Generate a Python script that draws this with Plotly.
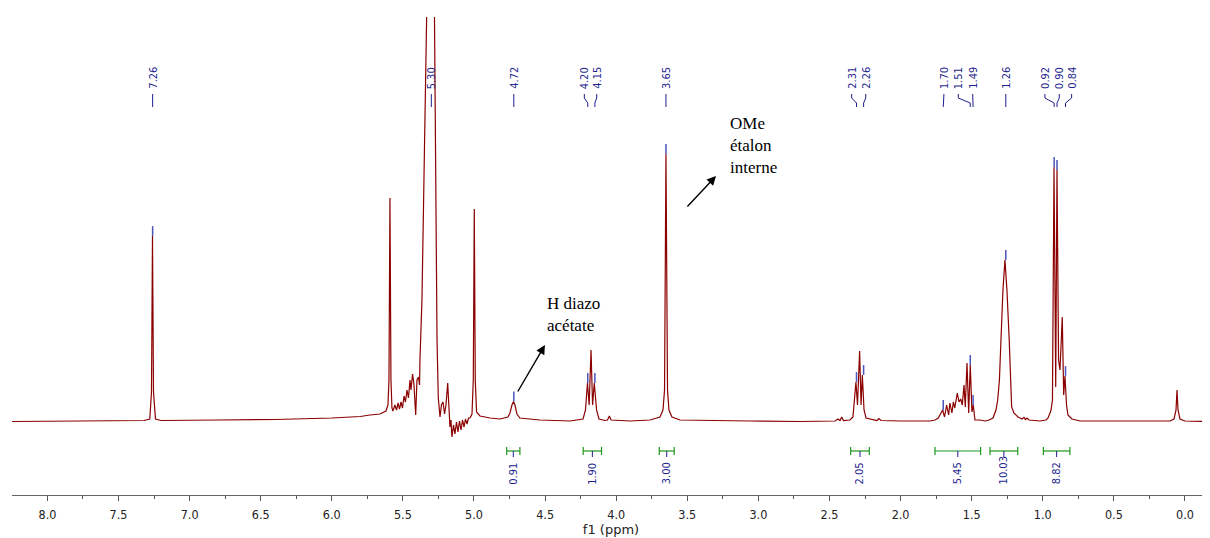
import plotly.graph_objects as go

# ---- spectrum trace (ppm, intensity) ----
spectrum_ppm = [
    8.249, 7.8, 7.5, 7.32, 7.28, 7.268, 7.261, 7.254, 7.24, 7.2, 6.8, 6.4, 6.0, 5.8,
    5.731, 5.661, 5.619, 5.605, 5.598, 5.591, 5.584, 5.577, 5.570, 5.556, 5.545, 5.534,
    5.524, 5.513, 5.503, 5.492, 5.482, 5.471, 5.461, 5.450, 5.443, 5.432, 5.422, 5.410,
    5.401, 5.390, 5.383, 5.380, 5.366, 5.355, 5.345, 5.331, 5.305, 5.279, 5.274, 5.267,
    5.260, 5.251, 5.239, 5.229, 5.218, 5.207, 5.197, 5.185, 5.176, 5.169, 5.162, 5.155,
    5.144, 5.134, 5.123, 5.113, 5.102, 5.091, 5.081, 5.070, 5.060, 5.049, 5.039, 5.028,
    5.014, 5.005, 4.998, 4.991, 4.982, 4.958, 4.887, 4.817, 4.761, 4.747, 4.733, 4.722,
    4.712, 4.698, 4.677, 4.536, 4.325, 4.233, 4.216, 4.202, 4.190, 4.177, 4.166, 4.154,
    4.138, 4.121, 4.079, 4.061, 4.048, 4.036, 3.903, 3.762, 3.692, 3.671, 3.660, 3.650,
    3.639, 3.629, 3.608, 3.551, 3.059, 2.707, 2.461, 2.440, 2.426, 2.414, 2.402, 2.356,
    2.335, 2.324, 2.314, 2.303, 2.288, 2.278, 2.269, 2.257, 2.243, 2.166, 2.152, 2.138,
    2.004, 1.793, 1.758, 1.735, 1.719, 1.704, 1.691, 1.676, 1.662, 1.653, 1.639, 1.629,
    1.619, 1.610, 1.601, 1.589, 1.577, 1.566, 1.554, 1.545, 1.533, 1.521, 1.510, 1.498,
    1.489, 1.477, 1.442, 1.406, 1.378, 1.350, 1.329, 1.317, 1.305, 1.294, 1.280, 1.266,
    1.252, 1.236, 1.227, 1.219, 1.203, 1.174, 1.146, 1.132, 1.122, 1.111, 1.097, 1.020,
    0.977, 0.963, 0.949, 0.942, 0.932, 0.921, 0.909, 0.900, 0.889, 0.879, 0.863, 0.853,
    0.844, 0.833, 0.823, 0.795, 0.738, 0.105, 0.077, 0.063, 0.056, 0.049, 0.035, 0.0,
    -0.176,
]
spectrum_int = [
    0.5, 1, 1.5, 1.5, 3, 30, 186, 30, 3, 1.5, 2, 2.5, 4, 5.5,
    7, 8, 11, 17, 42, 224, 42, 14, 11, 17, 12, 19,
    13, 20, 14, 26, 20, 32, 24, 42, 32, 48, 37, 7,
    42, 45, 37, 62, 122, 222, 322, 422, 900, 422, 322, 172,
    82, 24, 5, 17, 20, 8, 17, 39, 9, -5, 2, -15,
    -3, -12, 0, -10, 1, -8, 2, -5, 3, -2, 4, 4,
    8, 42, 213, 42, 10, 6, 4, 3, 5, 9, 17, 20.5,
    17, 8, 4, 2, 1, 3, 12, 39, 17, 72, 17, 39,
    12, 3, 1.5, 2, 6, 2, 1, 2, 5, 12, 32, 268,
    32, 12, 5, 2, 1, 0.5, 1, 3, 1.5, 5, 1.5, 2,
    5, 22, 40, 17, 71, 17, 47, 12, 4, 1.5, 3.5, 1.5,
    1, 1, 2, 4, 8, 12, 5, 17, 7, 19, 9, 20,
    14, 24, 29, 20, 23, 17, 37, 15, 59, 9, 57, 10,
    17, 2, 2, 1, 2, 4, 12, 22, 42, 82, 132, 162,
    132, 82, 42, 15, 9, 5, 3, 4.7, 2.5, 4, 2, 1,
    2, 4, 9, 12, 22, 255, 35, 252, 62, 52, 105, 27,
    46, 17, 7, 3, 1, 1, 3, 12, 32, 12, 3, 1,
    0.5,
]

# ---- peak picking labels ----
peak_labels = ["7.26", "5.30", "4.72", "4.20", "4.15", "3.65", "2.31", "2.26",
               "1.70", "1.51", "1.49", "1.26", "0.92", "0.90", "0.84"]
peak_ppm = [7.26, 5.30, 4.72, 4.20, 4.15, 3.65, 2.31, 2.26,
            1.70, 1.51, 1.49, 1.26, 0.92, 0.90, 0.84]
label_text_ppm = [7.26, 5.30, 4.72, 4.224, 4.137, 3.65, 2.344, 2.245,
                  1.695, 1.594, 1.493, 1.26, 0.985, 0.884, 0.797]
peak_apex = [186, None, 20.5, 39, 39, 268, 40, 47,
             12, 57, 17, 162, 255, 252, 46]

# ---- integrals ----
integral_values = ["0.91", "1.90", "3.00", "2.05", "5.45", "10.03", "8.82"]
integral_start = [4.770, 4.232, 3.697, 2.351, 1.758, 1.371, 0.996]
integral_end = [4.677, 4.103, 3.592, 2.220, 1.437, 1.176, 0.809]

# ---- x axis ----
x_ticks = [8.0, 7.5, 7.0, 6.5, 6.0, 5.5, 5.0, 4.5, 4.0, 3.5, 3.0, 2.5, 2.0, 1.5, 1.0, 0.5, 0.0]

RED = "#8b0000"
NAVY = "#1f1f8f"
TICKBLUE = "#4b55bb"
GREEN = "#1e961e"
SANS = "DejaVu Sans Condensed, Liberation Sans, sans-serif"

fig = go.Figure()

fig.add_trace(go.Scatter(x=spectrum_ppm, y=spectrum_int, mode="lines",
                         line=dict(color=RED, width=1.2), hoverinfo="skip",
                         showlegend=False))

# peak label connectors
cx, cy = [], []
for lp, pp in zip(label_text_ppm, peak_ppm):
    cx += [lp, lp, pp, pp, None]
    cy += [328, 324, 319, 315, None]
fig.add_trace(go.Scatter(x=cx, y=cy, mode="lines", line=dict(color=NAVY, width=1),
                         hoverinfo="skip", showlegend=False))

# peak apex ticks
mx, my = [], []
for pp, h in zip(peak_ppm, peak_apex):
    if h is not None:
        mx.append(pp)
        my.append(h + 5)
fig.add_trace(go.Scatter(x=mx, y=my, mode="markers",
                         marker=dict(symbol="line-ns-open", size=7, color=TICKBLUE,
                                     line=dict(color=TICKBLUE, width=1.5)),
                         hoverinfo="skip", showlegend=False))

# integrals
ix, iy, bx, by = [], [], [], []
for s, e in zip(integral_start, integral_end):
    ix += [s, e, None, s, s, None, e, e, None]
    iy += [-29, -29, None, -25, -33, None, -25, -33, None]
    m = (s + e) / 2
    bx += [m, m, None]
    by += [-29, -35, None]
fig.add_trace(go.Scatter(x=ix, y=iy, mode="lines", line=dict(color=GREEN, width=1.2),
                         hoverinfo="skip", showlegend=False))
fig.add_trace(go.Scatter(x=bx, y=by, mode="lines", line=dict(color=NAVY, width=1),
                         hoverinfo="skip", showlegend=False))

annotations = []
for lab, lp in zip(peak_labels, label_text_ppm):
    annotations.append(dict(x=lp, y=331, text=lab, textangle=-90, showarrow=False,
                            xanchor="center", yanchor="bottom",
                            font=dict(family=SANS, size=11, color=NAVY)))
for val, s, e in zip(integral_values, integral_start, integral_end):
    annotations.append(dict(x=(s + e) / 2, y=-64.5, text=val, textangle=-90, showarrow=False,
                            xanchor="center", yanchor="bottom",
                            font=dict(family=SANS, size=11, color=NAVY)))

serif = dict(family="Liberation Serif", size=17, color="black")
annotations.append(dict(x=4.50, y=108, text="H diazo<br>acétate", showarrow=False,
                        xanchor="left", yanchor="middle", align="left", font=serif))
annotations.append(dict(x=3.214, y=277, text="OMe<br>étalon<br>interne", showarrow=False,
                        xanchor="left", yanchor="middle", align="left", font=serif))
annotations.append(dict(x=4.501, y=77, ax=4.698, ay=29, axref="x", ayref="y",
                        text="", showarrow=True, arrowhead=2, arrowsize=1.3,
                        arrowwidth=1.4, arrowcolor="black", standoff=0))
annotations.append(dict(x=3.298, y=246, ax=3.509, ay=214, axref="x", ayref="y",
                        text="", showarrow=True, arrowhead=2, arrowsize=1.3,
                        arrowwidth=1.4, arrowcolor="black", standoff=0))

# the page body has an 8px margin: compensate so the plot lands where the reference has it
fig.update_layout(
    width=1202, height=530,
    margin=dict(l=4, r=0, t=9, b=43),
    paper_bgcolor="white", plot_bgcolor="white",
    annotations=annotations,
    showlegend=False,
    xaxis=dict(range=[8.249, -0.176], tickvals=x_ticks,
               ticktext=[f"{v:.1f}" for v in x_ticks],
               ticks="outside", ticklen=5, tickwidth=1, tickcolor="#555",
               minor=dict(dtick=0.25, ticks="outside", ticklen=3, tickcolor="#555"),
               showline=True, linecolor="#666", linewidth=1.2,
               showgrid=False, zeroline=False, ticklabelstandoff=3,
               tickfont=dict(family=SANS, size=12.5, color="#222"),
               title=dict(text="f1 (ppm)", standoff=2,
                          font=dict(family="DejaVu Sans", size=13, color="#222"))),
    yaxis=dict(range=[-73, 405], visible=False, showgrid=False, zeroline=False),
)

fig.write_html("out.html")
